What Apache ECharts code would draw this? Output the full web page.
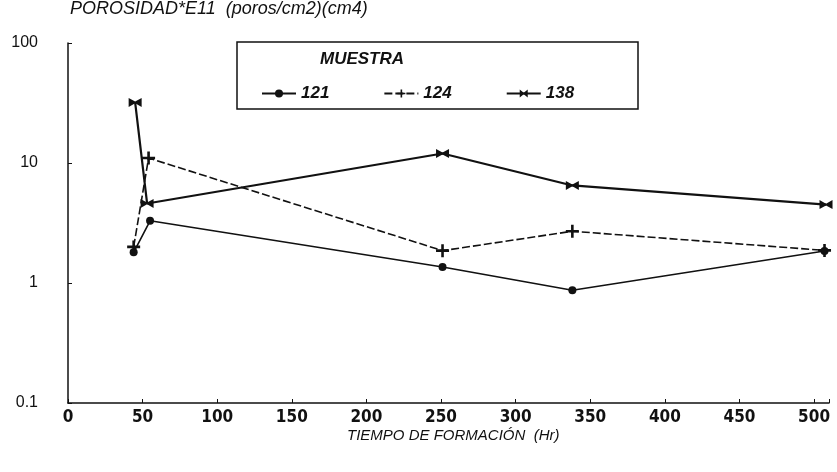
<!DOCTYPE html>
<html><head><meta charset="utf-8">
<script src="https://cdn.jsdelivr.net/npm/echarts@6/dist/echarts.min.js"></script>
<style>html,body{margin:0;padding:0;background:#fff}#c{width:837px;height:472px}</style>
</head><body><div id="c"></div>
<script>
const hours121 = [44, 55, 251, 338, 507];
const vals121  = [1.8, 3.3, 1.36, 0.87, 1.85];
const hours124 = [44, 54, 251, 338, 507];
const vals124  = [2.0, 11, 1.86, 2.7, 1.87];
const hours138 = [45, 53, 251, 338, 508];
const vals138  = [32, 4.6, 12, 6.5, 4.5];
const xTicks = [0, 50, 100, 150, 200, 250, 300, 350, 400, 450, 500];
const yTicks = ['0.1', '1', '10', '100'];
const seriesNames = ['121', '124', '138'];

const font = 'Liberation Sans';
const narrow = '"Liberation Sans Narrow", "DejaVu Sans Condensed", "Liberation Sans"';
const pair = (xs, ys) => xs.map((x, i) => [x, ys[i]]);
const plus = 'path://M4,0 L6,0 L6,4 L10,4 L10,6 L6,6 L6,10 L4,10 L4,6 L0,6 L0,4 L4,4 Z';
const bow = 'path://M0,0 L5,4 L10,0 L10,10 L5,6 L0,10 Z';

const chart = echarts.init(document.getElementById('c'), null, {renderer: 'canvas'});
chart.setOption({
  animation: false,
  backgroundColor: '#fff',
  grid: {left: 68, right: 8, top: 43, bottom: 69},
  graphic: [
    {type: 'text', left: 70, top: 0, style: {text: 'POROSIDAD*E11  (poros/cm2)(cm4)', font: 'italic 18px ' + font, fill: '#111'}},
    {type: 'rect', shape: {x: 237, y: 42, width: 401, height: 67}, style: {fill: 'none', stroke: '#111', lineWidth: 1.5}, z: 10},
    {type: 'text', left: 320, top: 51, style: {text: 'MUESTRA', font: 'italic bold 17px ' + font, fill: '#111'}, z: 10},
    {type: 'text', left: 347, top: 428, style: {text: 'TIEMPO DE FORMACIÓN  (Hr)', font: 'italic 15px ' + font, fill: '#111'}}
  ],
  legend: {
    data: seriesNames,
    left: 256, top: 80,
    itemWidth: 34, itemHeight: 10, itemGap: 54,
    textStyle: {fontFamily: font, fontStyle: 'italic', fontWeight: 'bold', fontSize: 17, color: '#111'}
  },
  xAxis: {
    type: 'value', min: 0, max: 510, interval: 50,
    axisLine: {lineStyle: {color: '#111', width: 1.5}},
    axisTick: {show: true, inside: true, length: 4, lineStyle: {color: '#111'}},
    splitLine: {show: false},
    axisLabel: {
      color: '#111', fontFamily: narrow, fontWeight: 'bold', fontSize: 17, margin: 6,
      formatter: v => (xTicks.indexOf(v) >= 0 ? String(v) : '')
    }
  },
  yAxis: {
    type: 'log', logBase: 10, min: 0.1, max: 100,
    axisLine: {show: true, lineStyle: {color: '#111', width: 1.5}},
    axisTick: {show: true, inside: true, length: 4, lineStyle: {color: '#111'}},
    minorTick: {show: false},
    splitLine: {show: false},
    axisLabel: {
      color: '#111', fontFamily: font, fontSize: 16, margin: 30,
      formatter: v => {
        const s = v < 1 ? '0.1' : String(Math.round(v));
        return yTicks.indexOf(s) >= 0 ? s : '';
      }
    }
  },
  series: [
    {name: '121', type: 'line', data: pair(hours121, vals121), symbol: 'circle', symbolSize: 8,
     itemStyle: {color: '#111'}, lineStyle: {color: '#111', width: 1.6}},
    {name: '124', type: 'line', data: pair(hours124, vals124), symbol: plus, symbolSize: 13,
     itemStyle: {color: '#111'}, lineStyle: {color: '#111', width: 1.6, type: [8, 3]}},
    {name: '138', type: 'line', data: pair(hours138, vals138), symbol: bow, symbolSize: [13, 9],
     itemStyle: {color: '#111'}, lineStyle: {color: '#111', width: 2.2}}
  ]
});
</script></body></html>
